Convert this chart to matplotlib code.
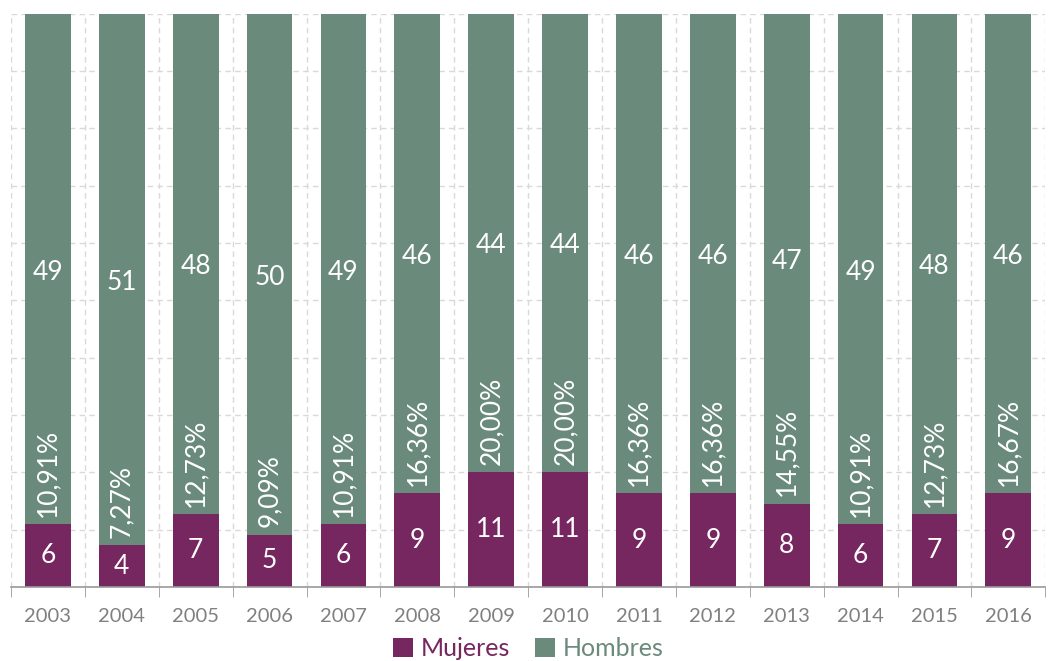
import numpy as np
import matplotlib.pyplot as plt

plt.rcParams['font.family'] = ['Lato', 'DejaVu Sans']

years = ['2003', '2004', '2005', '2006', '2007', '2008', '2009',
         '2010', '2011', '2012', '2013', '2014', '2015', '2016']
mujeres = [6, 4, 7, 5, 6, 9, 11, 11, 9, 9, 8, 6, 7, 9]
hombres = [49, 51, 48, 50, 49, 46, 44, 44, 46, 46, 47, 49, 48, 46]
porcentajes = ['10,91%', '7,27%', '12,73%', '9,09%', '10,91%', '16,36%', '20,00%',
               '20,00%', '16,36%', '16,36%', '14,55%', '10,91%', '12,73%', '16,67%']

PURPLE = '#76275f'
GREEN = '#6a8a7c'

m = np.array(mujeres, dtype=float)
h = np.array(hombres, dtype=float)
tot = m + h
fm = m / tot
fh = h / tot
x = np.arange(len(years))

fig = plt.figure(figsize=(10.5, 6.61), dpi=100)
ax = fig.add_axes([0.0105, 0.112, 0.985, 0.867])

ax.bar(x, fm, width=0.62, color=PURPLE, label='Mujeres', zorder=2)
ax.bar(x, fh, width=0.62, bottom=fm, color=GREEN, label='Hombres', zorder=2)

for i in range(len(x)):
    ax.text(x[i], fm[i] / 2, str(mujeres[i]), ha='center', va='center',
            color='white', fontsize=19, zorder=3)
    ax.text(x[i], fm[i] + fh[i] / 2 - 0.005, str(hombres[i]), ha='center', va='center',
            color='white', fontsize=19, zorder=3)
    ax.text(x[i], fm[i] + 0.013, porcentajes[i], ha='center', va='bottom',
            rotation=90, color='white', fontsize=19, zorder=3)

ax.set_xlim(-0.5, len(x) - 0.5)
ax.set_ylim(0, 1)
ax.set_yticks(np.arange(0, 1.01, 0.1))
ax.set_yticklabels([])
ax.tick_params(axis='y', length=0)

ax.set_xticks(x)
ax.set_xticklabels(years, color='#808080', fontsize=14.5)
ax.set_xticks(np.arange(-0.5, len(x), 1), minor=True)
ax.tick_params(axis='x', which='major', length=0, pad=15)
ax.tick_params(axis='x', which='minor', length=7, color='#999999', direction='out')

ax.grid(axis='y', which='major', linestyle=(0, (4, 3)), color='#d9d9d9', linewidth=1, zorder=0)
ax.grid(axis='x', which='minor', linestyle=(0, (4, 3)), color='#d9d9d9', linewidth=1, zorder=0)

for s in ['top', 'right', 'left']:
    ax.spines[s].set_visible(False)
ax.spines['bottom'].set_color('#999999')
ax.spines['bottom'].set_linewidth(1.2)

leg = ax.legend(loc='center', bbox_to_anchor=(0.5, -0.108), ncol=2, frameon=False,
                fontsize=18, handlelength=0.8, handleheight=0.8, handletextpad=0.3,
                columnspacing=1.0, borderpad=0)
for t, c in zip(leg.get_texts(), [PURPLE, GREEN]):
    t.set_color(c)

fig.savefig('out.png', dpi=100)
